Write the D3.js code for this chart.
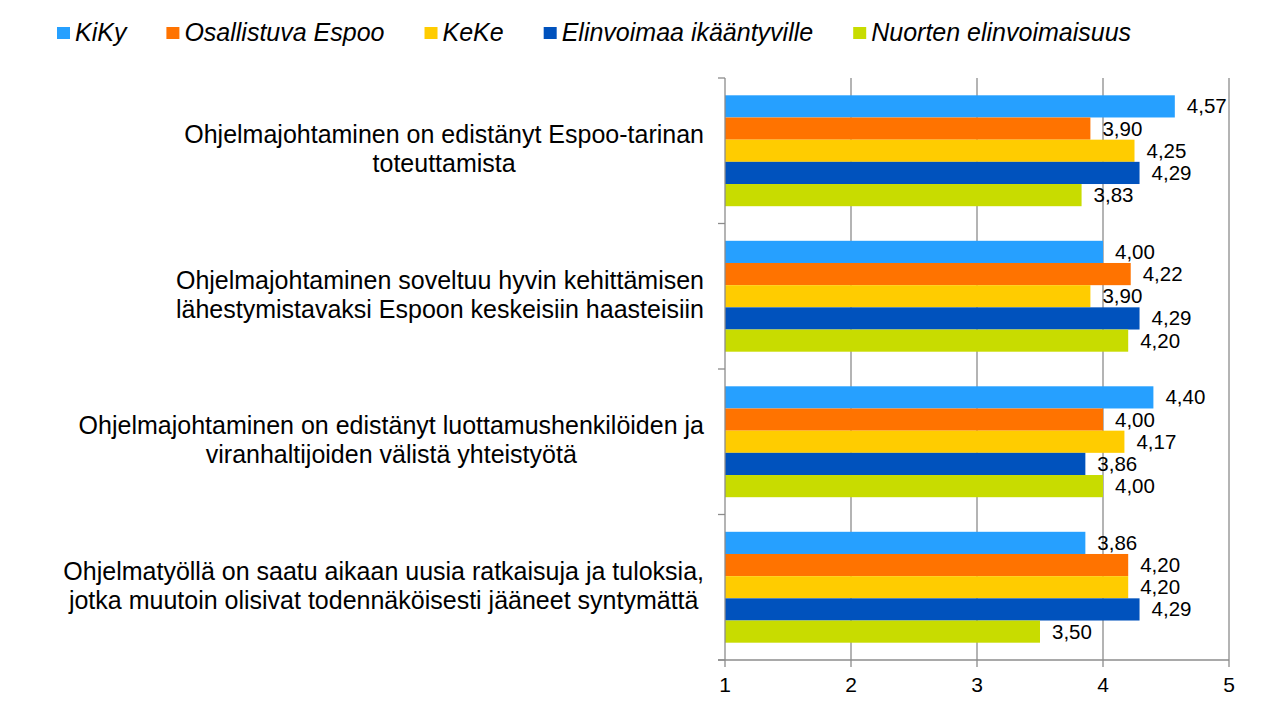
<!DOCTYPE html>
<html>
<head>
<meta charset="utf-8">
<script src="https://cdn.jsdelivr.net/npm/d3@7"></script>
<style>
  body { margin: 0; background: #fff; }
  text { font-family: "Liberation Sans", Arial, sans-serif; fill: #000; }
</style>
</head>
<body>
<script>
// data
var categories = [
    ['Ohjelmajohtaminen on edistänyt Espoo-tarinan', 'toteuttamista'],
    ['Ohjelmajohtaminen soveltuu hyvin kehittämisen', 'lähestymistavaksi Espoon keskeisiin haasteisiin'],
    ['Ohjelmajohtaminen on edistänyt luottamushenkilöiden ja', 'viranhaltijoiden välistä yhteistyötä'],
    ['Ohjelmatyöllä on saatu aikaan uusia ratkaisuja ja tuloksia,', 'jotka muutoin olisivat todennäköisesti jääneet syntymättä']
]
var seriesNames = ['KiKy', 'Osallistuva Espoo', 'KeKe', 'Elinvoimaa ikääntyville', 'Nuorten elinvoimaisuus']
var kiky = [4.57, 4.00, 4.40, 3.86]
var osallistuva = [3.90, 4.22, 4.00, 4.20]
var keke = [4.25, 3.90, 4.17, 4.20]
var elinvoimaa = [4.29, 4.29, 3.86, 4.29]
var nuorten = [3.83, 4.20, 4.00, 3.50]
var xTicks = [1, 2, 3, 4, 5]

var colors = ['#26a0ff', '#ff7300', '#ffcc00', '#0052bd', '#c8dc00']
var gridColor = '#8c8c8c'
var values = [kiky, osallistuva, keke, elinvoimaa, nuorten]

var width = 1268, height = 719
var svg = d3.select('body').append('svg')
    .attr('width', width)
    .attr('height', height)

var plotLeft = 725, plotRight = 1229, plotTop = 78, plotBottom = 660

var x = d3.scaleLinear().domain([1, 5]).range([plotLeft, plotRight])
var catIdx = d3.range(categories.length)
var y0 = d3.scaleBand().domain(catIdx).range([plotTop, plotBottom])
var y1 = d3.scaleBand().domain(d3.range(seriesNames.length))
    .range([0, y0.bandwidth()])
    .paddingInner(0)
    .paddingOuter(0.78)

// gridlines (also the bottom tick marks)
svg.append('g').selectAll('line')
    .data(xTicks.slice(1))
    .join('line')
    .attr('x1', d => x(d))
    .attr('x2', d => x(d))
    .attr('y1', plotTop)
    .attr('y2', plotBottom + 7)
    .attr('stroke', gridColor)
    .attr('stroke-width', 1.3)

// bars
var groups = svg.append('g').selectAll('g')
    .data(catIdx)
    .join('g')
    .attr('transform', i => 'translate(0,' + y0(i) + ')')

groups.selectAll('rect')
    .data(i => values.map((s, k) => ({ k: k, v: s[i] })))
    .join('rect')
    .attr('x', x(1))
    .attr('y', d => y1(d.k))
    .attr('width', d => x(d.v) - x(1))
    .attr('height', y1.bandwidth())
    .attr('fill', d => colors[d.k])

groups.selectAll('text')
    .data(i => values.map((s, k) => ({ k: k, v: s[i] })))
    .join('text')
    .attr('x', d => x(d.v) + 12)
    .attr('y', d => y1(d.k) + y1.bandwidth() / 2 + 7)
    .style('font-size', '20.5px')
    .text(d => d.v.toFixed(2).replace('.', ','))

// left axis with tick marks between categories
svg.append('line')
    .attr('x1', plotLeft).attr('x2', plotLeft)
    .attr('y1', plotTop).attr('y2', plotBottom + 7)
    .attr('stroke', gridColor).attr('stroke-width', 1.3)

svg.append('g').selectAll('line')
    .data(catIdx.concat([categories.length]))
    .join('line')
    .attr('x1', plotLeft - 7)
    .attr('x2', plotLeft)
    .attr('y1', i => i < categories.length ? y0(i) : plotBottom)
    .attr('y2', i => i < categories.length ? y0(i) : plotBottom)
    .attr('stroke', gridColor).attr('stroke-width', 1.3)

// bottom axis
svg.append('line')
    .attr('x1', plotLeft - 7).attr('x2', plotRight)
    .attr('y1', plotBottom).attr('y2', plotBottom)
    .attr('stroke', gridColor).attr('stroke-width', 1.3)

svg.append('g').selectAll('text')
    .data(xTicks)
    .join('text')
    .attr('x', d => x(d))
    .attr('y', plotBottom + 32)
    .attr('text-anchor', 'middle')
    .style('font-size', '21px')
    .text(d => d)

// category labels: lines centred on each other, block right-aligned
var labelRight = 704
categories.forEach(function (lines, i) {
    var cy = y0(i) + y0.bandwidth() / 2
    var t = svg.append('text').style('font-size', '25px').attr('text-anchor', 'middle')
    var spans = t.selectAll('tspan')
        .data(lines)
        .join('tspan')
        .attr('y', (d, j) => cy + 7 + (j - (lines.length - 1) / 2) * 29)
        .text(d => d)
    var maxW = 0
    spans.each(function () { maxW = Math.max(maxW, this.getComputedTextLength()) })
    spans.attr('x', labelRight - maxW / 2)
})

// legend
var lx = 57
seriesNames.forEach(function (name, k) {
    svg.append('rect')
        .attr('x', lx).attr('y', 27)
        .attr('width', 13).attr('height', 12)
        .attr('fill', colors[k])
    var t = svg.append('text')
        .attr('x', lx + 18)
        .attr('y', 41)
        .style('font-size', '25px')
        .style('font-style', 'italic')
        .text(name)
    lx += 18 + t.node().getComputedTextLength() + 40
})
</script>
</body>
</html>
